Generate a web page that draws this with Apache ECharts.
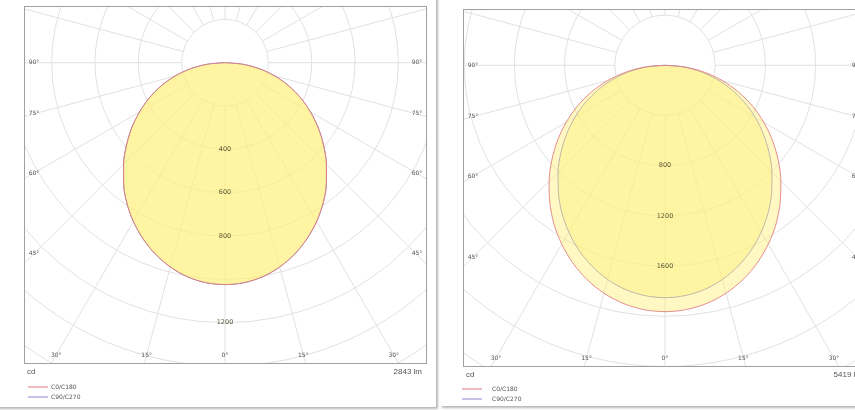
<!DOCTYPE html>
<html><head><meta charset="utf-8">
<script src="https://cdn.jsdelivr.net/npm/echarts@6/dist/echarts.min.js"></script>
<style>
html,body{margin:0;padding:0;background:#fff;width:855px;height:410px;overflow:hidden;position:relative;font-family:"DejaVu Sans",Verdana,sans-serif;}
.card{position:absolute;background:#fff;box-shadow:2px 2px 2px rgba(0,0,0,0.28);}
.plot{position:absolute;}
.frame{position:absolute;border:1px solid #a0a0a0;box-sizing:border-box;pointer-events:none;}
.txt{position:absolute;color:#555;white-space:nowrap;line-height:1;}
svg.leg{position:absolute;overflow:visible;}
</style></head><body>
<div class="card" style="left:-10px;top:-10px;width:446px;height:417px;"></div>
<div class="card" style="left:440px;top:-10px;width:440px;height:416px;"></div>
<div id="p0" class="plot"></div><div id="f0" class="frame"></div>
<div id="p1" class="plot"></div><div id="f1" class="frame"></div>
<div id="foot"></div>
<script>
// ---- data ----
const gammaAngles = [0,5,10,15,20,25,30,35,40,45,50,55,60,65,70,75,80,85,90];
const leftC0C180  = [1024,1019,1003,976,940,896,846,790,728,662,594,526,456,386,314,240,162,82,0];
const leftC90C270 = [1024,1019,1003,976,940,896,846,790,728,662,594,526,456,386,314,240,162,82,0];
const rightC0C180  = [1963,1954,1926,1880,1817,1738,1646,1543,1428,1306,1178,1046,910,770,625,475,320,160,0];
const rightC90C270 = [1852,1842,1814,1767,1703,1625,1534,1433,1322,1205,1083,957,830,698,563,425,285,143,0];
const leftRadiusLabels = [400,600,800,1200];
const rightRadiusLabels = [800,1200,1600];
const sideAngleLabels = [90,75,60,45];
const bottomAngleLabels = [-30,-15,0,15,30];
const lumenLabels = ['2843 lm','5419 lm'];
const unitLabel = 'cd';
const legendNames = ['C0/C180','C90/C270'];

// ---- layout ----
const panels = [
  {id:'p0', fid:'f0', x:24, y:6, w:403, h:358, ox:225, oy:62.7, scale:0.21667, step:200, max:1800,
   c0:leftC0C180, c90:leftC90C270, labels:leftRadiusLabels, lumen:lumenLabels[0], legX:28, legTX:51, legY:387},
  {id:'p1', fid:'f1', x:463, y:9, w:404, h:358, ox:665, oy:65.3, scale:0.1255, step:400, max:3200,
   c0:rightC0C180, c90:rightC90C270, labels:rightRadiusLabels, lumen:lumenLabels[1], legX:462, legTX:492, legY:389}
];
const colors = {c0:'#e07a7d', c90:'#8a88d0', fill:'#fff07a', grid:'#e1e1e1', text:'#555'};

function curve(arr){
  const pts = [];
  for (let i = arr.length-1; i >= 0; i--) pts.push([arr[i], 360 - gammaAngles[i]]);
  for (let i = 1; i < arr.length; i++) pts.push([arr[i], gammaAngles[i]]);
  return pts;
}
function addText(parent, txt, x, y, size, align, family){
  const d = document.createElement('div');
  d.className = 'txt'; d.textContent = txt;
  d.style.fontSize = size + 'px'; d.style.top = y + 'px';
  if (family) d.style.fontFamily = family;
  if (align === 'right') d.style.right = (855 - x) + 'px'; else d.style.left = x + 'px';
  parent.appendChild(d);
}
function addLegendLine(parent, x, y, c){
  const ns = 'http://www.w3.org/2000/svg';
  const s = document.createElementNS(ns, 'svg');
  s.setAttribute('class', 'leg'); s.setAttribute('width', '20'); s.setAttribute('height', '2');
  s.style.left = x + 'px'; s.style.top = (y - 1) + 'px';
  const ln = document.createElementNS(ns, 'line');
  ln.setAttribute('x1', '0'); ln.setAttribute('x2', '20'); ln.setAttribute('y1', '1'); ln.setAttribute('y2', '1');
  ln.setAttribute('stroke', c); ln.setAttribute('stroke-width', '1');
  s.appendChild(ln); parent.appendChild(s);
}

const foot = document.getElementById('foot');
panels.forEach(p => {
  const el = document.getElementById(p.id);
  Object.assign(el.style, {left:p.x+'px', top:p.y+'px', width:p.w+'px', height:p.h+'px'});
  const fr = document.getElementById(p.fid);
  Object.assign(fr.style, {left:p.x+'px', top:p.y+'px', width:p.w+'px', height:p.h+'px'});
  const chart = echarts.init(el, null, {renderer:'canvas'});
  const cx = p.ox - p.x, cy = p.oy - p.y;
  const R = p.max * p.scale, r0 = p.step * p.scale;
  const angleBase = {type:'value', min:0, max:360, interval:15, startAngle:270, clockwise:true,
    axisLine:{show:false}, axisTick:{show:false}, axisLabel:{show:false}};
  const graphics = [];
  const lx = 10;
  sideAngleLabels.forEach(a => {
    const dy = a === 90 ? 0 : (cx - lx) / Math.tan(a*Math.PI/180);
    [lx, p.w - lx].forEach(x => graphics.push({type:'text', x:x, y:cy + dy, z:10,
      style:{text:a+'°', fill:colors.text, fontSize:6, align:'center', verticalAlign:'middle', fontFamily:'DejaVu Sans'}}));
  });
  const by = p.h - 9;
  bottomAngleLabels.forEach(a => {
    const x = cx + (by - cy) * Math.tan(a*Math.PI/180);
    graphics.push({type:'text', x:x, y:by, z:10,
      style:{text:Math.abs(a)+'°', fill:colors.text, fontSize:6, align:'center', verticalAlign:'middle', fontFamily:'DejaVu Sans'}});
  });
  chart.setOption({
    animation:false,
    polar:[{center:[cx,cy], radius:[r0,R]}, {center:[cx,cy], radius:[0,R]}],
    angleAxis:[
      Object.assign({polarIndex:0, splitLine:{show:true, lineStyle:{color:colors.grid, width:1}}}, angleBase),
      Object.assign({polarIndex:1, splitLine:{show:false}}, angleBase)
    ],
    radiusAxis:[
      {polarIndex:0, type:'value', min:p.step, max:p.max, interval:p.step,
       axisLine:{show:false}, axisTick:{show:false}, axisLabel:{show:false},
       splitLine:{show:true, lineStyle:{color:colors.grid, width:1}}},
      {polarIndex:1, type:'value', min:0, max:p.max, interval:p.step, z:10,
       axisLine:{show:false}, axisTick:{show:false}, splitLine:{show:false},
       axisLabel:{show:true, margin:0, align:'center', verticalAlign:'middle', fontSize:6.5, color:'#5a5a3a',
         fontFamily:'DejaVu Sans',
         formatter: v => p.labels.indexOf(v) >= 0 ? String(v) : ''}}
    ],
    series:[
      {type:'line', name:legendNames[1], coordinateSystem:'polar', polarIndex:1, data:curve(p.c90),
       showSymbol:false, smooth:0.3, lineStyle:{color:colors.c90, width:1},
       areaStyle:{color:colors.fill, opacity:0.45}, z:2},
      {type:'line', name:legendNames[0], coordinateSystem:'polar', polarIndex:1, data:curve(p.c0),
       showSymbol:false, smooth:0.3, lineStyle:{color:colors.c0, width:1, opacity:0.85},
       areaStyle:{color:colors.fill, opacity:0.45}, z:3}
    ],
    graphic: graphics
  });
  // footer texts
  addText(foot, unitLabel, p.x + 3, p.y + p.h + 4, 8, 'left', '"Liberation Sans", Arial, sans-serif');
  addText(foot, p.lumen, p.x + p.w - 5, p.y + p.h + 4, 8, 'right', '"Liberation Sans", Arial, sans-serif');
  [[colors.c0, legendNames[0], p.legY], [colors.c90, legendNames[1], p.legY + 10]].forEach(([c, n, y]) => {
    addLegendLine(foot, p.legX, y, c);
    addText(foot, n, p.legTX, y - 3, 6, 'left');
  });
});
</script>
</body></html>
